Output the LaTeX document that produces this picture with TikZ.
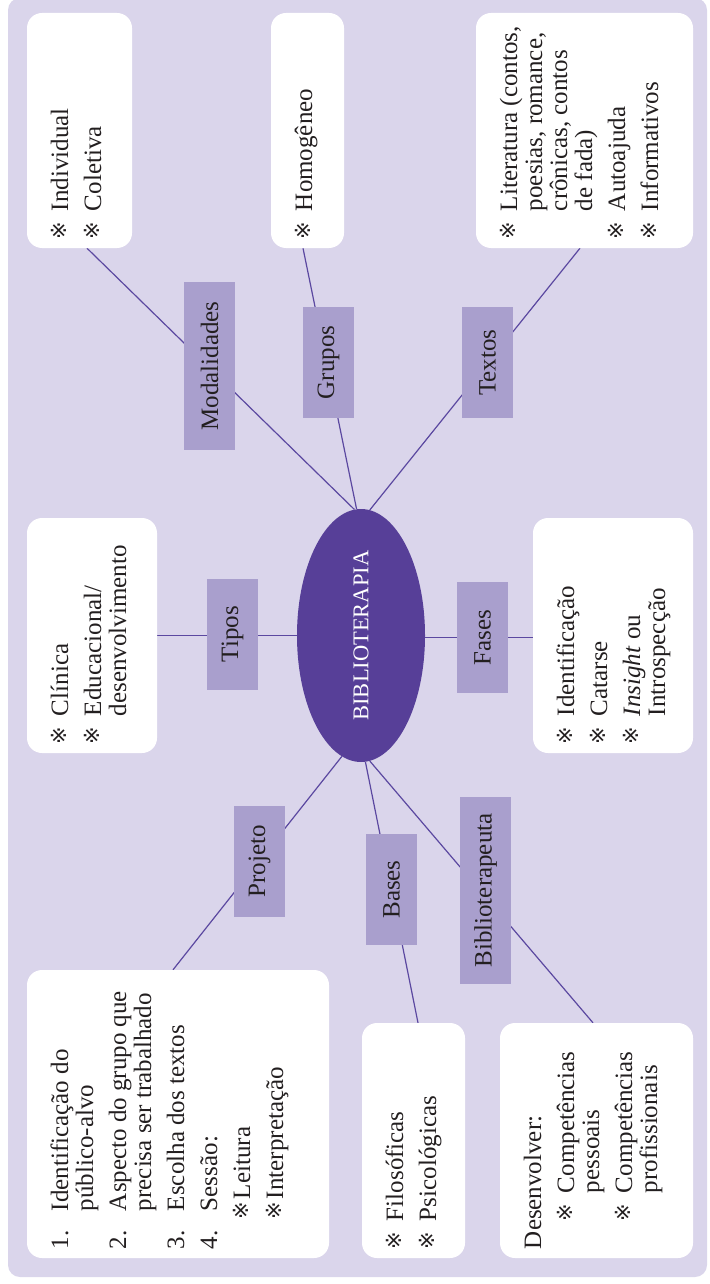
\documentclass[tikz,border=0pt]{standalone}
\usepackage{graphicx}
\usepackage{fontspec}
\setmainfont{Liberation Serif}
\newfontfamily\symfont{DejaVu Sans}
\usetikzlibrary{shapes.geometric,backgrounds}
\definecolor{bgc}{HTML}{DAD5EB}
\definecolor{labc}{HTML}{A99FCD}
\definecolor{ellc}{HTML}{573F98}
\definecolor{linec}{HTML}{5B48A0}
\definecolor{txtc}{HTML}{231F20}
\newcommand{\bulglyph}{\raisebox{2pt}{\symfont\fontsize{21}{21}\selectfont ※}}
\newcommand{\bul}{\makebox[28pt][l]{\bulglyph}}
\tikzset{
  whitebox/.style={fill=white, rounded corners=15pt, inner sep=0pt},
  labbox/.style={fill=labc, rotate=90, minimum width=111pt, minimum height=51pt,
     inner xsep=16pt, inner ysep=0pt, text=txtc, font=\fontsize{25}{25}\selectfont},
  boxtext/.style={rotate=90, anchor=north west, inner xsep=9pt, inner ysep=23.5pt,
     text=txtc, font=\fontsize{25}{25}\selectfont},
  conn/.style={draw=linec, line width=1.2pt}
}
\begin{document}
\begin{tikzpicture}[x=1pt,y=-1pt]
\useasboundingbox (0,0) rectangle (709,1284);

% white boxes
\node[whitebox, minimum width=105pt, minimum height=235pt] (bMod) at (79.5,130.5) {};
\node[whitebox, minimum width=73pt,  minimum height=235pt] (bGru) at (307.5,130.5) {};
\node[whitebox, minimum width=217pt, minimum height=235pt] (bTex) at (584.5,130.5) {};
\node[whitebox, minimum width=130pt, minimum height=235pt] (bTip) at (92,635.5) {};
\node[whitebox, minimum width=160pt, minimum height=235pt] (bFas) at (613,635.5) {};
\node[whitebox, minimum width=302pt, minimum height=288pt] (bPro) at (178,1114) {};
\node[whitebox, minimum width=103pt, minimum height=235pt] (bBas) at (413.5,1140.5) {};
\node[whitebox, minimum width=193pt, minimum height=235pt] (bBib) at (596.5,1140.5) {};

% central ellipse
\node[ellipse, fill=ellc, minimum width=128pt, minimum height=253pt, inner sep=0pt,
      text=white] (ell) at (361,635.5)
      {\rotatebox{90}{\fontsize{22.5}{22.5}\selectfont BIBLIOTERAPIA}};

% label boxes
\node[labbox, minimum width=168pt] (lMod) at (209.5,366) {Modalidades};
\node[labbox] (lGru) at (328.5,362.5) {Grupos};
\node[labbox] (lTex) at (487.5,362.5) {Textos};
\node[labbox] (lTip) at (232.5,634) {Tipos};
\node[labbox] (lFas) at (482.5,637.5) {Fases};
\node[labbox] (lPro) at (259.5,861.5) {Projeto};
\node[labbox] (lBas) at (391.5,889.5) {Bases};
\node[labbox, minimum width=187pt] (lBib) at (485.5,890.5) {Biblioterapeuta};

% background and connectors
\begin{pgfonlayer}{background}
\fill[bgc, rounded corners=12pt] (8,-2) rectangle (707,1277);
\draw[conn] ([xshift=7.5pt]bMod.south) -- (ell.93.7);
\draw[conn] ([xshift=-4.5pt]bGru.south) -- (ell.92.7);
\draw[conn] ([xshift=-4.5pt]bTex.south) -- (ell.86.8);
\draw[conn] (bTip.east) -- (ell.west);
\draw[conn] ([yshift=-2pt]ell.east) -- ([yshift=-2pt]bFas.west);
\draw[conn] (ell.261.2) -- ([xshift=-5pt]bPro.north);
\draw[conn] (ell.272.3) -- ([xshift=4.5pt]bBas.north);
\draw[conn] (ell.274.1) -- ([xshift=-3.5pt]bBib.north);
\end{pgfonlayer}

% box texts
\node[boxtext] (tMod) at (bMod.south west) {\begin{tabular}{@{}l@{}l@{}}
\bul & Individual\\[8pt]
\bul & Coletiva
\end{tabular}};

\node[boxtext] (tGru) at (bGru.south west) {\begin{tabular}{@{}l@{}l@{}}
\bul & Homogêneo
\end{tabular}};

\node[boxtext] (tTex) at (bTex.south west) {\begin{tabular}{@{}l@{}l@{}}
\bul & Literatura (contos,\\
 & poesias, romance,\\
 & crônicas, contos\\
 & de fada)\\[8pt]
\bul & Autoajuda\\[8pt]
\bul & Informativos
\end{tabular}};

\node[boxtext] (tTip) at (bTip.south west) {\begin{tabular}{@{}l@{}l@{}}
\bul & Clínica\\[8pt]
\bul & Educacional/\\
 & desenvolvimento
\end{tabular}};

\node[boxtext] (tFas) at (bFas.south west) {\begin{tabular}{@{}l@{}l@{}}
\bul & Identificação\\[8pt]
\bul & Catarse\\[8pt]
\bul & \textit{Insight} ou\\
 & Introspecção
\end{tabular}};

\node[boxtext] (tPro) at (bPro.south west) {\begin{tabular}{@{}l@{}l@{}}
\makebox[38pt][l]{1.} & Identificação do\\
 & público-alvo\\[8pt]
2. & Aspecto do grupo que\\
 & precisa ser trabalhado\\[8pt]
3. & Escolha dos textos\\[8pt]
4. & Sessão:\\[8pt]
 & \hspace*{-8pt}\makebox[20pt][l]{\bulglyph}Leitura\\[8pt]
 & \hspace*{-8pt}\makebox[20pt][l]{\bulglyph}Interpretação
\end{tabular}};

\node[boxtext] (tBas) at (bBas.south west) {\begin{tabular}{@{}l@{}l@{}}
\bul & Filosóficas\\[8pt]
\bul & Psicológicas
\end{tabular}};

\node[boxtext] (tBib) at (bBib.south west) {\begin{tabular}{@{}l@{}l@{}}
\multicolumn{2}{@{}l@{}}{Desenvolver:}\\[8pt]
\hspace*{28pt}\bul & Competências\\
 & pessoais\\[8pt]
\hspace*{28pt}\bul & Competências\\
 & profissionais
\end{tabular}};
\end{tikzpicture}
\end{document}
